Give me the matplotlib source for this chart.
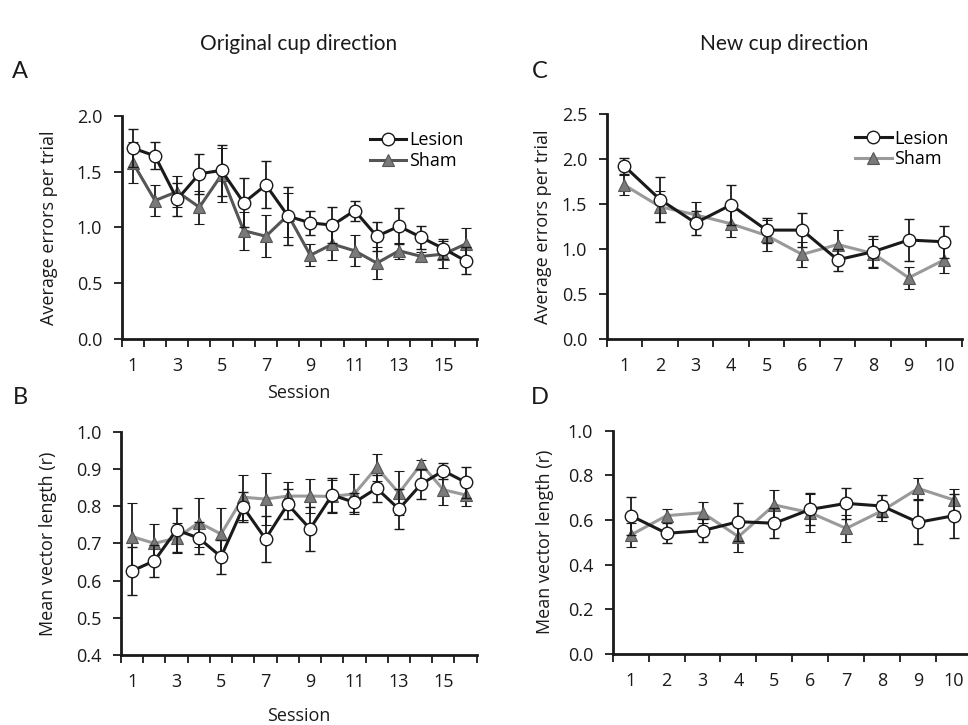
import numpy as np
import matplotlib
matplotlib.use("Agg")
import matplotlib.pyplot as plt
from matplotlib.lines import Line2D

W, H = 968, 725

# Panel A: average errors per trial, original cup direction (16 sessions)
sessions_a = np.arange(1, 17)
a_lesion = [1.71, 1.64, 1.25, 1.48, 1.51, 1.22, 1.38, 1.10, 1.04, 1.02, 1.15, 0.92, 1.01, 0.91, 0.81, 0.70]
a_lesion_err = [0.17, 0.12, 0.15, 0.18, 0.23, 0.22, 0.21, 0.26, 0.11, 0.16, 0.09, 0.13, 0.16, 0.10, 0.09, 0.12]
a_sham = [1.58, 1.24, 1.32, 1.18, 1.47, 0.97, 0.92, 1.11, 0.75, 0.85, 0.79, 0.68, 0.79, 0.74, 0.76, 0.85]
a_sham_err = [0.18, 0.14, 0.14, 0.15, 0.24, 0.17, 0.19, 0.20, 0.10, 0.14, 0.14, 0.14, 0.07, 0.04, 0.12, 0.14]

# Panel B: mean vector length, original cup direction
b_lesion = [0.626, 0.653, 0.736, 0.714, 0.664, 0.797, 0.712, 0.805, 0.739, 0.830, 0.810, 0.848, 0.792, 0.859, 0.895, 0.864]
b_lesion_err = [0.065, 0.043, 0.058, 0.043, 0.046, 0.040, 0.061, 0.040, 0.060, 0.045, 0.025, 0.036, 0.054, 0.040, 0.022, 0.042]
b_sham = [0.718, 0.700, 0.714, 0.756, 0.725, 0.824, 0.819, 0.827, 0.827, 0.826, 0.833, 0.904, 0.835, 0.913, 0.844, 0.830]
b_sham_err = [0.090, 0.052, 0.040, 0.067, 0.070, 0.060, 0.070, 0.037, 0.045, 0.045, 0.054, 0.036, 0.060, 0.012, 0.040, 0.030]

# Panel C: average errors per trial, new cup direction (10 sessions)
sessions_c = np.arange(1, 11)
c_lesion = [1.92, 1.55, 1.29, 1.49, 1.21, 1.21, 0.88, 0.97, 1.10, 1.08]
c_lesion_err = [0.09, 0.25, 0.13, 0.22, 0.14, 0.19, 0.12, 0.17, 0.23, 0.18]
c_sham = [1.71, 1.47, 1.38, 1.28, 1.15, 0.94, 1.05, 0.95, 0.68, 0.88]
c_sham_err = [0.11, 0.17, 0.14, 0.15, 0.17, 0.14, 0.16, 0.16, 0.12, 0.15]

# Panel D: mean vector length, new cup direction
d_lesion = [0.619, 0.540, 0.552, 0.592, 0.585, 0.647, 0.674, 0.662, 0.589, 0.619]
d_lesion_err = [0.085, 0.045, 0.050, 0.085, 0.067, 0.072, 0.070, 0.050, 0.098, 0.099]
d_sham = [0.532, 0.619, 0.632, 0.525, 0.667, 0.632, 0.562, 0.641, 0.741, 0.689]
d_sham_err = [0.055, 0.030, 0.047, 0.070, 0.067, 0.085, 0.062, 0.045, 0.048, 0.049]

SANS = ["Open Sans", "DejaVu Sans"]
TITLE = ["Lato", "DejaVu Sans"]
plt.rcParams["font.family"] = SANS

INK = "#1a1a1a"
SHAM_MARK = "#7a7a7a"
FS = 13


def rect(left, right, top, bottom):
    return [left / W, 1 - bottom / H, (right - left) / W, (bottom - top) / H]


def panel(r, x, lesion, lesion_err, sham, sham_err, ylim, yticks, ylabel,
          ylab_x, sham_line, odd_only, xlabel_y=None, legend=None):
    ax = fig.add_axes(r)
    n = len(x)
    ax.errorbar(x, sham, yerr=sham_err, color=sham_line, lw=2.2,
                ecolor=INK, elinewidth=1.3, capsize=3.5, capthick=1.3,
                marker="^", ms=8, mfc=SHAM_MARK, mec="#555555", mew=0.8,
                zorder=2, clip_on=False)
    ax.errorbar(x, lesion, yerr=lesion_err, color=INK, lw=2.2,
                ecolor=INK, elinewidth=1.3, capsize=3.5, capthick=1.3,
                marker="o", ms=9, mfc="white", mec=INK, mew=1.0,
                zorder=3, clip_on=False)
    ax.set_xlim(0.5, n + 0.5)
    ax.set_ylim(*ylim)
    # ticks sit between categories, labels at category centres
    ax.set_xticks(np.arange(0.5, n + 1.0, 1.0))
    ax.set_xticklabels([])
    lab = x[::2] if odd_only else x
    ax.set_xticks(lab, minor=True)
    ax.set_xticklabels([str(v) for v in lab], minor=True)
    ax.tick_params(axis="x", which="major", direction="out", length=6,
                   width=1.3, color=INK)
    ax.tick_params(axis="x", which="minor", length=0, pad=13,
                   labelsize=FS, labelcolor=INK)
    ax.set_yticks(yticks)
    ax.set_yticklabels(["%.1f" % v for v in yticks])
    ax.tick_params(axis="y", direction="out", length=6, width=1.3,
                   color=INK, labelsize=FS, labelcolor=INK, pad=8)
    for s in ("top", "right"):
        ax.spines[s].set_visible(False)
    for s in ("left", "bottom"):
        ax.spines[s].set_linewidth(2.0)
        ax.spines[s].set_color(INK)
    ax.set_ylabel(ylabel, fontsize=FS, color=INK)
    ax.yaxis.set_label_coords(ylab_x, 0.5)
    if xlabel_y is not None:
        ax.set_xlabel("Session", fontsize=FS, color=INK)
        ax.xaxis.set_label_coords(0.5, xlabel_y)
    if legend is not None:
        handles = [
            Line2D([], [], color=INK, lw=2.2, marker="o", ms=9, mfc="white",
                   mec=INK, mew=1.0),
            Line2D([], [], color=sham_line, lw=2.2, marker="^", ms=8,
                   mfc=SHAM_MARK, mec="#555555", mew=0.8),
        ]
        ax.legend(handles, ["Lesion", "Sham"], loc="upper left",
                  bbox_to_anchor=legend, frameon=False, fontsize=FS,
                  handlelength=2.0, handletextpad=0.15, borderpad=0,
                  labelspacing=0.15, borderaxespad=0)
    return ax


fig = plt.figure(figsize=(W / 100, H / 100), dpi=100)

panel(rect(121.7, 476.7, 115.7, 339), sessions_a, a_lesion, a_lesion_err,
      a_sham, a_sham_err, (0, 2.0), np.arange(0, 2.01, 0.5),
      "Average errors per trial", -0.18, "#555555", True,
      xlabel_y=-0.20, legend=(0.70, 0.93))
panel(rect(121, 476.7, 431.7, 655), sessions_a, b_lesion, b_lesion_err,
      b_sham, b_sham_err, (0.4, 1.0), np.arange(0.4, 1.01, 0.1),
      "Mean vector length (r)", -0.18, "#9a9a9a", True,
      xlabel_y=-0.235)
panel(rect(606.7, 962, 114, 339), sessions_c, c_lesion, c_lesion_err,
      c_sham, c_sham_err, (0, 2.5), np.arange(0, 2.51, 0.5),
      "Average errors per trial", -0.155, "#9a9a9a", False,
      legend=(0.70, 0.93))
panel(rect(612.7, 972, 430.5, 654), sessions_c, d_lesion, d_lesion_err,
      d_sham, d_sham_err, (0, 1.0), np.arange(0, 1.01, 0.2),
      "Mean vector length (r)", -0.163, "#9a9a9a", False)

fig.text(299 / W, 1 - 44 / H, "Original cup direction", ha="center",
         va="center", fontsize=15, family=TITLE, color=INK)
fig.text(784 / W, 1 - 44 / H, "New cup direction", ha="center",
         va="center", fontsize=15, family=TITLE, color=INK)
for letter, px, py in [("A", 20, 72), ("C", 540, 72), ("B", 20, 397), ("D", 540, 397)]:
    fig.text(px / W, 1 - py / H, letter, ha="center", va="center",
             fontsize=17, family=TITLE, color=INK)

fig.savefig("out.png", dpi=100)
